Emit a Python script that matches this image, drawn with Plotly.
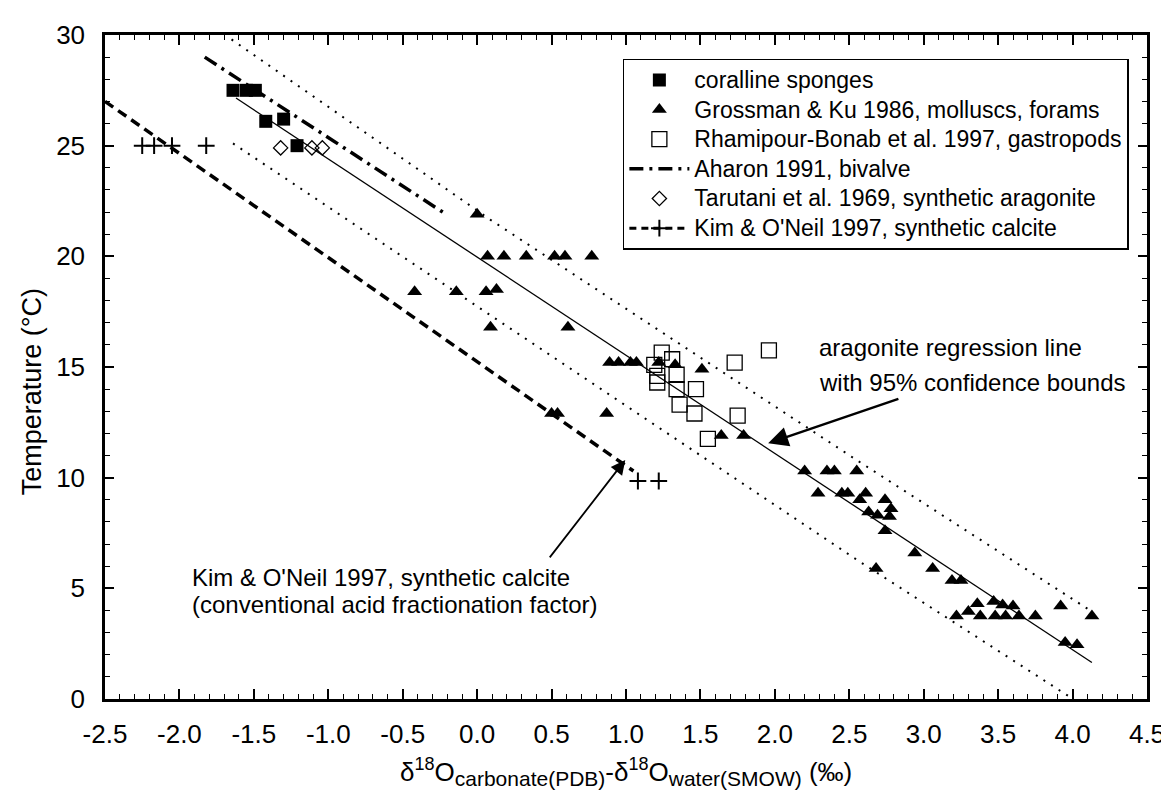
import plotly.graph_objects as go

# ---------------- data ----------------
sponge_x = [-1.64, -1.55, -1.49, -1.42, -1.30, -1.21]
sponge_T = [27.5, 27.5, 27.5, 26.1, 26.2, 25.0]

gk_x = [0.00,
        0.07, 0.18, 0.33, 0.52, 0.59, 0.77,
        -0.42, -0.14, 0.06, 0.13,
        0.09, 0.61,
        0.89, 0.95, 1.03, 1.07, 1.22, 1.33, 1.51,
        0.50, 0.54, 0.87,
        1.64, 1.79,
        2.20, 2.35, 2.40, 2.55,
        2.29, 2.45, 2.49, 2.61,
        2.57, 2.74, 2.78,
        2.63, 2.69, 2.77,
        2.74, 2.68, 2.94, 3.06, 3.19, 3.25,
        3.36, 3.47, 3.53, 3.60,
        3.22, 3.30, 3.38, 3.48, 3.55, 3.64, 3.75,
        3.92, 4.13, 3.95, 4.03]
gk_T = [21.9,
        20.0, 20.0, 20.0, 20.0, 20.0, 20.0,
        18.4, 18.4, 18.4, 18.5,
        16.8, 16.8,
        15.2, 15.2, 15.2, 15.2, 15.2, 15.1, 14.9,
        12.9, 12.9, 12.9,
        11.9, 11.9,
        10.3, 10.3, 10.3, 10.3,
        9.3, 9.3, 9.3, 9.3,
        9.0, 9.0, 8.6,
        8.45, 8.3, 8.25,
        7.6, 5.9, 6.6, 5.9, 5.35, 5.35,
        4.3, 4.4, 4.25, 4.2,
        3.75, 3.95, 3.75, 3.75, 3.75, 3.75, 3.75,
        4.2, 3.75, 2.55, 2.45]

rb_x = [1.24, 1.31, 1.19, 1.21, 1.21, 1.34, 1.34, 1.47, 1.36, 1.46, 1.55, 1.73, 1.75, 1.96]
rb_T = [15.65, 15.35, 15.1, 14.6, 14.3, 14.65, 14.0, 14.0, 13.3, 12.9, 11.75, 15.2, 12.8, 15.75]

tar_x = [-1.32, -1.11, -1.04]
tar_T = [24.9, 24.9, 24.9]

kim_x = [-2.25, -2.17, -2.05, -1.82, 1.08, 1.22]
kim_T = [25.0, 25.0, 25.0, 25.0, 9.85, 9.85]

calcite_x = [-2.5, 1.05]
calcite_T = [27.0, 10.3]

aharon_x = [-1.83, -0.22]
aharon_T = [29.0, 21.95]

reg_x = [-1.62, 4.13]
reg_T = [27.15, 1.65]

upper_x = [-1.65, 0.09, 2.56, 4.13]
upper_T = [29.8, 21.65, 10.75, 3.95]

lower_x = [-1.64, -0.69, 2.56, 3.98]
lower_T = [25.1, 20.84, 6.25, 0.1]

x_tick_vals = [-2.5, -2.0, -1.5, -1.0, -0.5, 0.0, 0.5, 1.0, 1.5, 2.0, 2.5, 3.0, 3.5, 4.0, 4.5]
x_tick_text = ["-2.5", "-2.0", "-1.5", "-1.0", "-0.5", "0.0", "0.5", "1.0", "1.5",
               "2.0", "2.5", "3.0", "3.5", "4.0", "4.5"]
y_tick_vals = [0, 5, 10, 15, 20, 25, 30]

legend_names = ["coralline sponges",
                "Grossman &amp; Ku 1986, molluscs, forams",
                "Rhamipour-Bonab et al. 1997, gastropods",
                "Aharon 1991, bivalve",
                "Tarutani et al. 1969, synthetic aragonite",
                "Kim &amp; O'Neil 1997, synthetic calcite"]

FONT = "Liberation Sans, Arial, sans-serif"


def lg(name):
    return '<span style="font-size:23px">' + name + '</span>'


def sub(t):
    return '<sub><span style="font-size:21px">' + t + '</span></sub>'


def sup(t):
    return '<sup><span style="font-size:18px">' + t + '</span></sup>'


x_title = ("δ" + sup("18") + "O" + sub("carbonate(PDB)") + "-δ" + sup("18") + "O"
           + sub("water(SMOW)") + " (‰)")

fig = go.Figure()

# regression line and bounds (no legend)
fig.add_trace(go.Scatter(x=reg_x, y=reg_T, mode="lines", showlegend=False,
                         line=dict(color="black", width=1.3)))
fig.add_trace(go.Scatter(x=upper_x, y=upper_T, mode="lines", showlegend=False,
                         line=dict(color="black", width=2, dash="2px,7px")))
fig.add_trace(go.Scatter(x=lower_x, y=lower_T, mode="lines", showlegend=False,
                         line=dict(color="black", width=2, dash="2px,7px")))
fig.add_trace(go.Scatter(x=calcite_x, y=calcite_T, mode="lines", showlegend=False,
                         line=dict(color="black", width=3.5, dash="10px,6px")))

# legend traces in order
fig.add_trace(go.Scatter(x=sponge_x, y=sponge_T, mode="markers", name=lg(legend_names[0]),
                         marker=dict(symbol="square", size=13, color="black")))
fig.add_trace(go.Scatter(x=gk_x, y=gk_T, mode="markers", name=lg(legend_names[1]),
                         marker=dict(symbol="triangle-up", size=13, color="black")))
fig.add_trace(go.Scatter(x=rb_x, y=rb_T, mode="markers", name=lg(legend_names[2]),
                         marker=dict(symbol="square-open", size=15, color="black", line=dict(width=1.3))))
fig.add_trace(go.Scatter(x=aharon_x, y=aharon_T, mode="lines", name=lg(legend_names[3]),
                         line=dict(color="black", width=3.5, dash="14px,6px,3px,6px")))
fig.add_trace(go.Scatter(x=tar_x, y=tar_T, mode="markers", name=lg(legend_names[4]),
                         marker=dict(symbol="diamond-open", size=11, color="black", line=dict(width=1.3))))
fig.add_trace(go.Scatter(x=kim_x, y=kim_T, mode="markers", showlegend=False,
                         marker=dict(symbol="cross-thin-open", size=12, color="black", line=dict(width=2, color="black"))))
fig.add_trace(go.Scatter(x=[None], y=[None], mode="lines+markers", name=lg(legend_names[5]),
                         line=dict(color="black", width=3, dash="7px,5px"),
                         marker=dict(symbol="cross-thin-open", size=12, color="black", line=dict(width=2, color="black"))))

annotations = [
    dict(x=2.28, y=15.9, xref="x", yref="y", text="aragonite regression line", showarrow=False,
         xanchor="left", yanchor="middle", font=dict(size=24, family=FONT, color="black")),
    dict(x=2.28, y=14.3, xref="x", yref="y", text="with 95% confidence bounds", showarrow=False,
         xanchor="left", yanchor="middle", font=dict(size=24, family=FONT, color="black")),
    dict(x=-1.93, y=5.5, xref="x", yref="y", text="Kim &amp; O'Neil 1997, synthetic calcite", showarrow=False,
         xanchor="left", yanchor="middle", font=dict(size=24, family=FONT, color="black")),
    dict(x=-1.93, y=4.25, xref="x", yref="y", text="(conventional acid fractionation factor)", showarrow=False,
         xanchor="left", yanchor="middle", font=dict(size=24, family=FONT, color="black")),
    # arrows
    dict(x=1.955, y=11.55, xref="x", yref="y", ax=2.84, ay=13.58, axref="x", ayref="y",
         text="", showarrow=True, arrowhead=2, arrowsize=1.6, arrowwidth=2.5, arrowcolor="black"),
    dict(x=0.995, y=10.8, xref="x", yref="y", ax=0.48, ay=6.33, axref="x", ayref="y",
         text="", showarrow=True, arrowhead=2, arrowsize=1.6, arrowwidth=1.8, arrowcolor="black"),
    # axis titles
    dict(x=0.5, y=-0.11, xref="paper", yref="paper", showarrow=False, xanchor="center", yanchor="middle",
         text=x_title, font=dict(size=26, family=FONT, color="black")),
    dict(x=-0.07, y=0.462, xref="paper", yref="paper", showarrow=False, xanchor="center", yanchor="middle",
         text="Temperature (°C)", textangle=-90, font=dict(size=27, family=FONT, color="black")),
]

fig.update_layout(
    width=1169, height=794,
    margin=dict(l=97, r=29, t=14, b=103),
    paper_bgcolor="white", plot_bgcolor="white",
    font=dict(family=FONT, color="black"),
    annotations=annotations,
    legend=dict(x=0.497, y=0.9645, xanchor="left", yanchor="top",
                bgcolor="white", bordercolor="black", borderwidth=1.5,
                font=dict(size=20.5, family=FONT, color="black"),
                itemwidth=60, tracegroupgap=0),
)

fig.update_xaxes(range=[-2.5, 4.5], tickvals=x_tick_vals, ticktext=x_tick_text,
                 ticks="inside", ticklen=10, tickwidth=1.5, tickcolor="black",
                 showline=True, linewidth=2.5, linecolor="black", mirror="ticks",
                 showgrid=False, zeroline=False, ticklabelstandoff=10,
                 ticklabeloverflow="allow",
                 tickfont=dict(size=26, family=FONT, color="black"),
                 minor=dict(dtick=0.1, tick0=0, ticks="inside", ticklen=5, tickwidth=1.2,
                            tickcolor="black", showgrid=False))
fig.update_yaxes(range=[0, 30], tickvals=y_tick_vals,
                 ticks="inside", ticklen=9, tickwidth=1.5, tickcolor="black",
                 showline=True, linewidth=2.5, linecolor="black", mirror="ticks",
                 showgrid=False, zeroline=False, ticklabelstandoff=12,
                 ticklabeloverflow="allow",
                 tickfont=dict(size=26, family=FONT, color="black"),
                 minor=dict(dtick=1, tick0=0, ticks="inside", ticklen=5, tickwidth=1.2,
                            tickcolor="black", showgrid=False))

fig.write_html("out.html")
